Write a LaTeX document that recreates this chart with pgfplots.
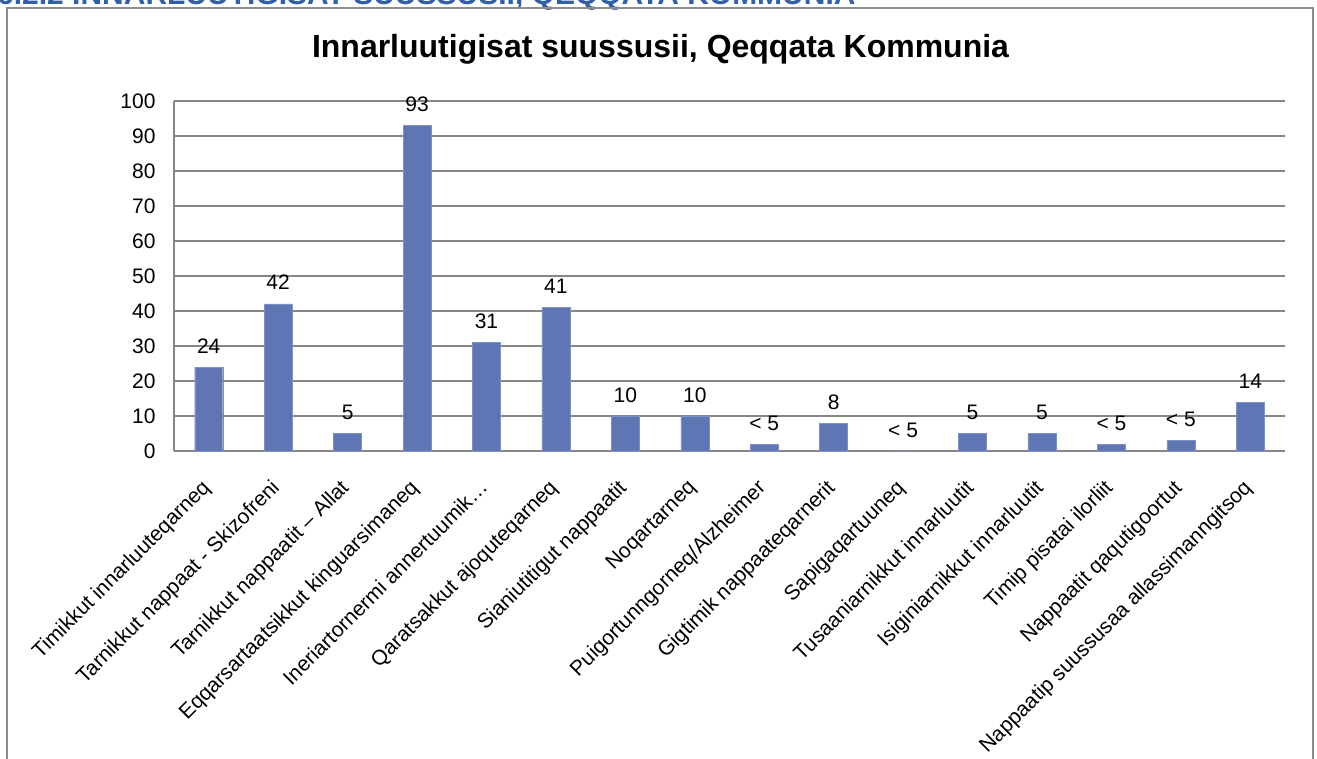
\documentclass[border=0pt]{standalone}
\usepackage{pgfplots}
\pgfplotsset{compat=1.18}
\usepackage{pgfplotstable}
\usepackage{fontspec}
\setmainfont{Liberation Sans}
\definecolor{barblue}{RGB}{96,118,180}
\definecolor{gridgray}{RGB}{134,134,134}
\definecolor{framegray}{RGB}{140,140,140}
\definecolor{headblue}{RGB}{50,96,168}
\pgfplotstableread{
x y lab
0 24 24
1 42 42
2 5 5
3 93 93
4 31 31
5 41 41
6 10 10
7 10 10
8 2 {< 5}
9 8 8
10 0 {< 5}
11 5 5
12 5 5
13 2 {< 5}
14 3 {< 5}
15 14 14
}\datatable
\begin{document}
\begin{tikzpicture}[x=1pt,y=1pt]
\path[use as bounding box] (0,0) rectangle (1317,758);
\node[anchor=base west, inner sep=0pt, font=\fontsize{30}{33}\selectfont\bfseries, text=headblue] at (-3,753) {6.2.2 INNARLUUTIGISAT SUUSSUSII, QEQQATA KOMMUNIA};
\draw[framegray, line width=2pt] (7,-10) -- (7,750) -- (1313,750) -- (1313,-10);
\node[anchor=base, inner sep=0pt, font=\fontsize{32}{36}\selectfont\bfseries] at (660.5,700) {Innarluutigisat suussusii, Qeqqata Kommunia};
\begin{axis}[
  at={(174pt,307pt)}, anchor=south west,
  scale only axis, width=1111pt, height=350pt,
  xmin=-0.5, xmax=15.5, ymin=0, ymax=100,
  ytick={0,10,...,100},
  xtick={0,...,15},
  xticklabels={Timikkut innarluuteqarneq, Tarnikkut nappaat - Skizofreni, Tarnikkut nappaatit – Allat, Eqqarsartaatsikkut kinguarsimaneq, Ineriartornermi annertuumik…, Qaratsakkut ajoquteqarneq, Sianiutitigut nappaatit, Noqartarneq, Puigortunngorneq/Alzheimer, Gigtimik nappaateqarnerit, Sapigaqartuuneq, Tusaaniarnikkut innarluutit, Isiginiarnikkut innarluutit, Timip pisatai ilorliit, Nappaatit qaqutigoortut, Nappaatip suussusaa allassimanngitsoq},
  axis x line*=bottom, axis y line*=left,
  axis line style={gridgray, line width=1.5pt, -},
  ymajorgrids, grid style={gridgray, line width=1.5pt},
  major tick length=0pt,
  tick style={draw=none},
  yticklabel style={font=\fontsize{21}{24}\selectfont, xshift=-15pt},
  xticklabel style={font=\fontsize{21}{24}\selectfont, rotate=45, anchor=north east, inner sep=0pt, xshift=-25pt, yshift=-13pt},
  /pgf/number format/assume math mode=true,
  ybar, bar width=28pt,
  nodes near coords,
  point meta=explicit symbolic,
  every node near coord/.append style={font=\fontsize{21}{24}\selectfont, anchor=base, yshift=14pt, inner sep=0pt, text=black},
  clip=false,
]
\addplot[fill=barblue, draw=barblue!80!white, bar shift=0pt] table[x=x, y=y, meta=lab] {\datatable};
\end{axis}
\end{tikzpicture}
\end{document}
